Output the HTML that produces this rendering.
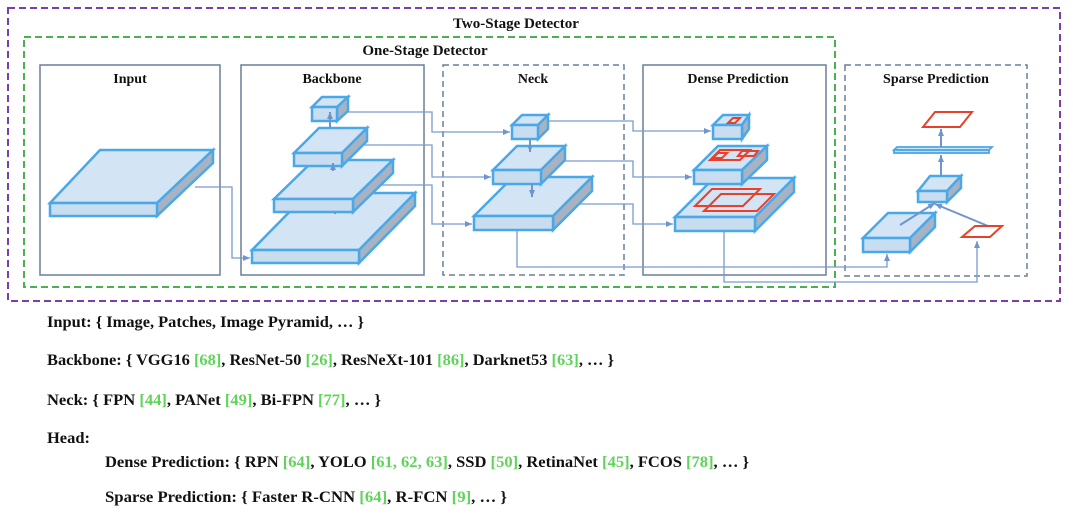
<!DOCTYPE html>
<html><head><meta charset="utf-8"><style>
html,body{margin:0;padding:0;background:#fff;}
svg{display:block;}
.t{font-family:"Liberation Serif",serif;font-weight:bold;fill:#111;}
.g{fill:#5fd35a;}
</style></head><body>
<svg width="1073" height="522" viewBox="0 0 1073 522" xmlns="http://www.w3.org/2000/svg">
<defs>
<marker id="a" markerWidth="8" markerHeight="8" refX="7" refY="4" orient="auto" markerUnits="userSpaceOnUse">
<path d="M0,1 L7,4 L0,7 z" fill="#6f95cf"/></marker>
</defs>
<rect x="8" y="8" width="1052" height="293" fill="none" stroke="#7a3fa8" stroke-width="2" stroke-dasharray="7,4"/>
<rect x="24" y="37" width="811" height="250" fill="none" stroke="#4caf50" stroke-width="2" stroke-dasharray="7,4"/>
<text class="t" x="516" y="28" font-size="15" text-anchor="middle">Two-Stage Detector</text>
<text class="t" x="425" y="55" font-size="15" text-anchor="middle">One-Stage Detector</text>
<rect x="40" y="65" width="180" height="210" fill="none" stroke="#6a7f99" stroke-width="1.5"/>
<rect x="241" y="65" width="183" height="210" fill="none" stroke="#6a7f99" stroke-width="1.5"/>
<rect x="443" y="65" width="181" height="210" fill="none" stroke="#6a7f99" stroke-width="1.5" stroke-dasharray="6,4"/>
<rect x="643" y="65" width="183" height="210" fill="none" stroke="#6a7f99" stroke-width="1.5"/>
<rect x="845" y="65" width="182" height="211" fill="none" stroke="#6a7f99" stroke-width="1.5" stroke-dasharray="6,4"/>
<g class="t" font-size="14" text-anchor="middle">
<text x="130" y="83">Input</text><text x="332" y="83">Backbone</text><text x="533" y="83">Neck</text>
<text x="738" y="83">Dense Prediction</text><text x="936" y="83">Sparse Prediction</text></g>

<g fill="none" stroke="#7a9bd0" stroke-width="1.3">
<path d="M195,187 H232 V258 H250" marker-end="url(#a)"/>
<path d="M340,112 H432 V132 H510" marker-end="url(#a)"/>
<path d="M355,145 H432 V177 H491" marker-end="url(#a)"/>
<path d="M375,185 H432 V224 H472" marker-end="url(#a)"/>
<path d="M548,121 H633 V131 H711" marker-end="url(#a)"/>
<path d="M555,161 H633 V177 H692" marker-end="url(#a)"/>
<path d="M575,204 H633 V224 H673" marker-end="url(#a)"/>
<path d="M517,184 V267 H887 V254" marker-end="url(#a)"/>
<path d="M724,165 V282 H977 V241" marker-end="url(#a)"/>
</g>

<g stroke="#4aa8e8" stroke-width="2.5" stroke-linejoin="miter">
<polygon points="50,203 100,150 213,150 157,203" fill="#d3e4f4"/>
<polygon points="157,203 213,150 213,163 157,216" fill="#a7b3c2"/>
<rect x="50" y="203" width="107" height="13" fill="#c8ddf0"/>
<polygon points="252,250 308,193 415,193 359,250" fill="#d3e4f4"/>
<polygon points="359,250 415,193 415,206 359,263" fill="#a7b3c2"/>
<rect x="252" y="250" width="107" height="13" fill="#c8ddf0"/>
<polygon points="274,199 314,160 393,160 353,199" fill="#d3e4f4"/>
<polygon points="353,199 393,160 393,173 353,212" fill="#a7b3c2"/>
<rect x="274" y="199" width="79" height="13" fill="#c8ddf0"/>
<polygon points="294,153 319,128 367,128 342,153" fill="#d3e4f4"/>
<polygon points="342,153 367,128 367,141 342,166" fill="#a7b3c2"/>
<rect x="294" y="153" width="48" height="13" fill="#c8ddf0"/>
<polygon points="312,107 322,97 348,97 337,107" fill="#d3e4f4"/>
<polygon points="337,107 348,97 348,111 337,121" fill="#a7b3c2"/>
<rect x="312" y="107" width="25" height="14" fill="#c8ddf0"/>
<polygon points="474,216 513,177 592,177 553,216" fill="#d3e4f4"/>
<polygon points="553,216 592,177 592,191 553,230" fill="#a7b3c2"/>
<rect x="474" y="216" width="79" height="14" fill="#c8ddf0"/>
<polygon points="493,170 517,146 565,146 541,170" fill="#d3e4f4"/>
<polygon points="541,170 565,146 565,160 541,184" fill="#a7b3c2"/>
<rect x="493" y="170" width="48" height="14" fill="#c8ddf0"/>
<polygon points="512,125 522,115 548,115 538,125" fill="#d3e4f4"/>
<polygon points="538,125 548,115 548,129 538,139" fill="#a7b3c2"/>
<rect x="512" y="125" width="26" height="14" fill="#c8ddf0"/>
<polygon points="675,217 714,178 794,178 755,217" fill="#d3e4f4"/>
<polygon points="755,217 794,178 794,192 755,231" fill="#a7b3c2"/>
<rect x="675" y="217" width="80" height="14" fill="#c8ddf0"/>
<polygon points="694,170 718,146 767,146 742,170" fill="#d3e4f4"/>
<polygon points="742,170 767,146 767,160 742,184" fill="#a7b3c2"/>
<rect x="694" y="170" width="48" height="14" fill="#c8ddf0"/>
<polygon points="713,125 723,115 749,115 742,125" fill="#d3e4f4"/>
<polygon points="742,125 749,115 749,129 742,139" fill="#a7b3c2"/>
<rect x="713" y="125" width="29" height="14" fill="#c8ddf0"/>
<polygon points="863,238 888,213 935,213 910,238" fill="#d3e4f4"/>
<polygon points="910,238 935,213 935,227 910,252" fill="#a7b3c2"/>
<rect x="863" y="238" width="47" height="14" fill="#c8ddf0"/>
<polygon points="918,191 930,176 961,176 947,191" fill="#d3e4f4"/>
<polygon points="947,191 961,176 961,188 947,202" fill="#a7b3c2"/>
<rect x="918" y="191" width="29" height="11" fill="#c8ddf0"/>
<polygon points="894,150 897,147 992,147 989,150" fill="#d3e4f4" stroke-width="1.8"/>
<rect x="894" y="150" width="95" height="3" fill="#c8ddf0" stroke-width="1.8"/>
</g>

<g stroke="#6f95cf" stroke-width="2" fill="none">
<path d="M330,128 V112" marker-end="url(#a)"/>
<path d="M333,171 V163" marker-end="url(#a)"/>
<path d="M335,212 V214"/>
<path d="M530,139 V152" marker-end="url(#a)"/>
<path d="M532,184 V197" marker-end="url(#a)"/>
<path d="M900,225 L935,203" marker-end="url(#a)"/>
<path d="M988,226 L935,204" marker-end="url(#a)"/>
<path d="M941,176 V155" marker-end="url(#a)"/>
<path d="M941,147 V129" marker-end="url(#a)"/>
</g>

<g fill="none" stroke="#e8402a" stroke-width="2">
<polygon points="728,123 733,118 740,118 735,123"/>
<polygon points="710,160 720,150 750,150 740,160"/>
<polygon points="713,158 718,153 727,153 722,158"/>
<polygon points="738,156 742,151 758,151 754,156"/>
<polygon points="695,206 712,189 760,189 743,206"/>
<polygon points="704,211 721,194 774,194 757,211"/>
<polygon points="923,127 935,112 972,112 960,127"/>
<polygon points="962,237 975,226 1002,226 990,237"/>
</g>

<g class="t" font-size="15.5">
<text x="47" y="327" textLength="317" lengthAdjust="spacingAndGlyphs">Input: { Image, Patches, Image Pyramid, … }</text>
<text x="47" y="365" textLength="567" lengthAdjust="spacingAndGlyphs">Backbone: { VGG16 <tspan class="g">[68]</tspan>, ResNet-50 <tspan class="g">[26]</tspan>, ResNeXt-101 <tspan class="g">[86]</tspan>, Darknet53 <tspan class="g">[63]</tspan>, … }</text>
<text x="47" y="405" textLength="334" lengthAdjust="spacingAndGlyphs">Neck: { FPN <tspan class="g">[44]</tspan>, PANet <tspan class="g">[49]</tspan>, Bi-FPN <tspan class="g">[77]</tspan>, … }</text>
<text x="47" y="443" textLength="43" lengthAdjust="spacingAndGlyphs">Head:</text>
<text x="105" y="467" textLength="644" lengthAdjust="spacingAndGlyphs">Dense Prediction: { RPN <tspan class="g">[64]</tspan>, YOLO <tspan class="g">[61, 62, 63]</tspan>, SSD <tspan class="g">[50]</tspan>, RetinaNet <tspan class="g">[45]</tspan>, FCOS <tspan class="g">[78]</tspan>, … }</text>
<text x="105" y="502" textLength="402" lengthAdjust="spacingAndGlyphs">Sparse Prediction: { Faster R-CNN <tspan class="g">[64]</tspan>,  R-FCN <tspan class="g">[9]</tspan>, … }</text>
</g>
</svg>
</body></html>
